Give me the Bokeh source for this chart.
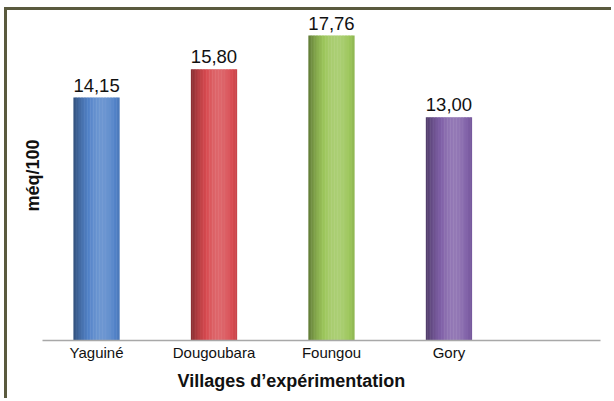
import numpy as np
from bokeh.plotting import figure
from bokeh.models import ColumnDataSource, Range1d, FixedTicker, Title
from bokeh.core.properties import value
from bokeh.embed import file_html
from bokeh.resources import INLINE

# ---- data ----
villages = ["Yaguiné", "Dougoubara", "Foungou", "Gory"]
values = [14.15, 15.80, 17.76, 13.00]
value_labels = ["14,15", "15,80", "17,76", "13,00"]
base_colors = ["#5283c9", "#d84a50", "#9cc65a", "#8060a8"]
y_title = "méq/100"
x_title = "Villages d’expérimentation"

FONT = "Liberation Sans"
BORDER = "#5a5a3e"

p = figure(width=607, height=391, output_backend="svg", toolbar_location=None,
           x_range=Range1d(-0.46, 4.29), y_range=Range1d(0, 19.22),
           min_border_left=35, min_border_right=14, min_border_top=0, min_border_bottom=61)
p.styles = {"margin-left": "4px", "margin-top": "7px",
            "border-left": f"3px solid {BORDER}", "border-top": f"3px solid {BORDER}"}
p.background_fill_color = "white"
p.border_fill_color = "white"
p.outline_line_color = None
p.grid.grid_line_color = None

# ---- shaded (cylinder-like) bars built from thin strips ----
bar_w = 0.39
n = 30
def hex2rgb(h):
    h = h.lstrip("#")
    return np.array([int(h[i:i + 2], 16) for i in (0, 2, 4)], dtype=float)

xs, tops, ws, cols = [], [], [], []
for i, (v, c) in enumerate(zip(values, base_colors)):
    rgb = hex2rgb(c)
    for k in range(n):
        t = (k + 0.5) / n
        f = 0.62 + 0.48 * (1 - ((t - 0.62) / 0.62) ** 2)
        if f <= 1:
            col = rgb * f
        else:
            col = rgb + (255 - rgb) * (f - 1) * 1.6
        col = np.clip(col, 0, 255).astype(int)
        xs.append(i - bar_w / 2 + t * bar_w)
        tops.append(v)
        ws.append(bar_w / n * 1.3)
        cols.append("#%02x%02x%02x" % tuple(col))

src = ColumnDataSource(dict(x=xs, top=tops, w=ws, color=cols))
p.vbar(x="x", top="top", width="w", bottom=0, source=src,
       fill_color="color", line_color=None)

# ---- value labels ----
lab_src = ColumnDataSource(dict(x=list(range(len(values))), y=values, t=value_labels))
p.text(x="x", y="y", text="t", source=lab_src, text_align="center",
       text_baseline="bottom", y_offset=-6, text_font=value(FONT),
       text_font_size="18.5px", text_color="#111111")

# ---- axes ----
xa = p.xaxis[0]
xa.ticker = FixedTicker(ticks=list(range(len(villages))))
xa.major_label_overrides = {i: v for i, v in enumerate(villages)}
xa.major_tick_in = 0
xa.major_tick_out = 0
xa.minor_tick_line_color = None
xa.axis_line_color = "#a8a8a8"
xa.axis_line_width = 1.5
xa.major_label_text_font = FONT
xa.major_label_text_font_size = "15px"
xa.major_label_text_color = "#111111"
xa.major_label_standoff = 3

ya = p.yaxis[0]
ya.ticker = FixedTicker(ticks=[])
ya.axis_line_color = None
ya.major_tick_line_color = None
ya.minor_tick_line_color = None
ya.axis_label = y_title
ya.axis_label_text_font = FONT
ya.axis_label_text_font_style = "bold"
ya.axis_label_text_font_size = "18px"
ya.axis_label_text_color = "#111111"
ya.axis_label_standoff = 0

p.add_layout(Title(text=x_title, align="left", offset=135, standoff=10,
                   text_font=FONT, text_font_style="bold",
                   text_font_size="18px", text_color="#111111"), "below")

open("out.html", "w").write(file_html(p, INLINE))
